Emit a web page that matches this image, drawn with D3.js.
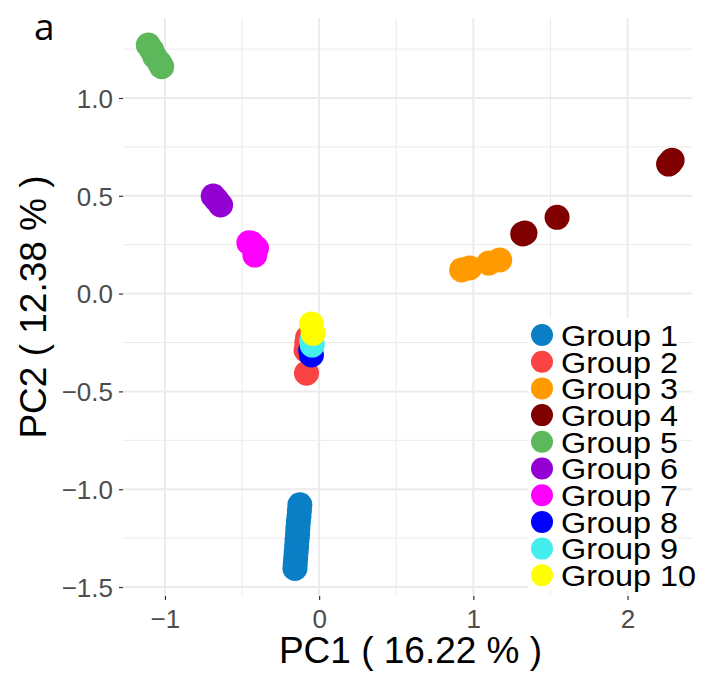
<!DOCTYPE html>
<html>
<head>
<meta charset="utf-8">
<script src="https://cdn.jsdelivr.net/npm/d3@7"></script>
<style>
  html, body { margin: 0; padding: 0; background: #ffffff; }
  svg { display: block; }
</style>
</head>
<body>
<svg id="chart" width="701" height="675"></svg>
<script>
// PCA scores per group: [PC1, PC2]
const group1 = [[-0.125, -1.08], [-0.128, -1.11], [-0.131, -1.14], [-0.135, -1.17], [-0.138, -1.20], [-0.140, -1.23],
                [-0.143, -1.26], [-0.146, -1.29], [-0.149, -1.32], [-0.152, -1.35], [-0.155, -1.38], [-0.157, -1.405]];
const group2 = [[-0.082, -0.407], [-0.085, -0.29], [-0.080, -0.25], [-0.075, -0.225]];
const group3 = [[0.924, 0.121], [0.976, 0.131], [1.100, 0.156], [1.171, 0.172]];
const group4 = [[1.320, 0.305], [1.335, 0.31], [1.543, 0.39], [2.266, 0.662], [2.278, 0.67], [2.289, 0.682]];
const group5 = [[-1.108, 1.271], [-1.086, 1.245], [-1.065, 1.211], [-1.035, 1.18], [-1.021, 1.16]];
const group6 = [[-0.687, 0.499], [-0.665, 0.479], [-0.639, 0.453]];
const group7 = [[-0.456, 0.26], [-0.438, 0.257], [-0.406, 0.232], [-0.417, 0.197]];
const group8 = [[-0.050, -0.314], [-0.055, -0.29]];
const group9 = [[-0.045, -0.263], [-0.048, -0.24]];
const group10 = [[-0.050, -0.155], [-0.039, -0.203]];

const groupNames = ["Group 1", "Group 2", "Group 3", "Group 4", "Group 5",
                    "Group 6", "Group 7", "Group 8", "Group 9", "Group 10"];
const groupColors = ["#0a7fc5", "#fb4343", "#ff9a00", "#800000", "#5cb85a",
                     "#9400d3", "#ff00ff", "#0000ff", "#44eeee", "#ffff00"];
const groupPoints = [group1, group2, group3, group4, group5, group6, group7, group8, group9, group10];

const xTicks = [-1, 0, 1, 2];
const xMinor = [-0.5, 0.5, 1.5];
const yTicks = [-1.5, -1.0, -0.5, 0.0, 0.5, 1.0];
const yMinor = [-1.25, -0.75, -0.25, 0.25, 0.75, 1.25];
const xLimits = [-1.272, 2.418];
const yLimits = [-1.546, 1.409];

const xTitle = "PC1 ( 16.22 % )";
const yTitle = "PC2 ( 12.38 % )";
const panelTag = "a";

const svg = d3.select("#chart");
const panel = { left: 123, right: 692, top: 18, bottom: 596 };

const x = d3.scaleLinear().domain(xLimits).range([panel.left, panel.right]);
const y = d3.scaleLinear().domain(yLimits).range([panel.bottom, panel.top]);

const font = "'Liberation Sans', Arial, Helvetica, sans-serif";

// grid
const grid = svg.append("g");
grid.selectAll(".vminor").data(xMinor).join("line")
  .attr("x1", d => x(d)).attr("x2", d => x(d))
  .attr("y1", panel.top).attr("y2", panel.bottom)
  .attr("stroke", "#ebebeb").attr("stroke-width", 1);
grid.selectAll(".hminor").data(yMinor).join("line")
  .attr("y1", d => y(d)).attr("y2", d => y(d))
  .attr("x1", panel.left).attr("x2", panel.right)
  .attr("stroke", "#ebebeb").attr("stroke-width", 1);
grid.selectAll(".vmajor").data(xTicks).join("line")
  .attr("x1", d => x(d)).attr("x2", d => x(d))
  .attr("y1", panel.top).attr("y2", panel.bottom)
  .attr("stroke", "#ebebeb").attr("stroke-width", 2);
grid.selectAll(".hmajor").data(yTicks).join("line")
  .attr("y1", d => y(d)).attr("y2", d => y(d))
  .attr("x1", panel.left).attr("x2", panel.right)
  .attr("stroke", "#ebebeb").attr("stroke-width", 2);

// axes
const fmtY = d => d3.format(".1f")(d).replace("-", "\u2212");
const fmtX = d => d3.format("d")(d).replace("-", "\u2212");

const xAxis = svg.append("g")
  .attr("transform", `translate(0,${panel.bottom})`)
  .call(d3.axisBottom(x).tickValues(xTicks).tickFormat(fmtX).tickSize(4).tickPadding(5));
const yAxis = svg.append("g")
  .attr("transform", `translate(${panel.left},0)`)
  .call(d3.axisLeft(y).tickValues(yTicks).tickFormat(fmtY).tickSize(4).tickPadding(6));

[xAxis, yAxis].forEach(ax => {
  ax.select(".domain").remove();
  ax.selectAll(".tick line").attr("stroke", "#333333").attr("stroke-width", 1.2);
  ax.selectAll(".tick text")
    .attr("fill", "#4d4d4d")
    .style("font-family", font)
    .style("font-size", "26px");
});
xAxis.selectAll(".tick text").attr("dy", "0.9em");
yAxis.selectAll(".tick text").attr("dy", "0.36em");

// points
const layers = svg.append("g");
groupPoints.forEach((pts, i) => {
  layers.append("g").selectAll("circle").data(pts).join("circle")
    .attr("cx", d => x(d[0]))
    .attr("cy", d => y(d[1]))
    .attr("r", 12.5)
    .attr("fill", groupColors[i]);
});

// axis titles
svg.append("text")
  .attr("x", (panel.left + panel.right) / 2 + 3)
  .attr("y", 663)
  .attr("text-anchor", "middle")
  .style("font-family", font)
  .style("font-size", "37px")
  .attr("fill", "#000")
  .text(xTitle);

svg.append("text")
  .attr("transform", `translate(46,${(panel.top + panel.bottom) / 2}) rotate(-90)`)
  .attr("text-anchor", "middle")
  .style("font-family", font)
  .style("font-size", "37px")
  .attr("fill", "#000")
  .text(yTitle);

// panel tag
svg.append("text")
  .attr("x", 34)
  .attr("y", 40)
  .style("font-family", "'Open Sans', 'Noto Sans', sans-serif")
  .style("font-size", "37px")
  .attr("fill", "#000")
  .text(panelTag);

// legend
const legend = svg.append("g");
legend.append("rect")
  .attr("x", 528).attr("y", 318)
  .attr("width", 150).attr("height", 272)
  .attr("fill", "#ffffff");
const rowY = i => 335 + i * 26.7;
const items = legend.selectAll("g.item").data(groupNames).join("g")
  .attr("class", "item")
  .attr("transform", (d, i) => `translate(0,${rowY(i)})`);
items.append("circle")
  .attr("cx", 542).attr("cy", 0).attr("r", 11)
  .attr("fill", (d, i) => groupColors[i]);
items.append("text")
  .attr("transform", "translate(561,0) scale(1.08,1)")
  .attr("dy", "0.36em")
  .style("font-family", font)
  .style("font-size", "30px")
  .attr("fill", "#000")
  .text(d => d);
</script>
</body>
</html>
